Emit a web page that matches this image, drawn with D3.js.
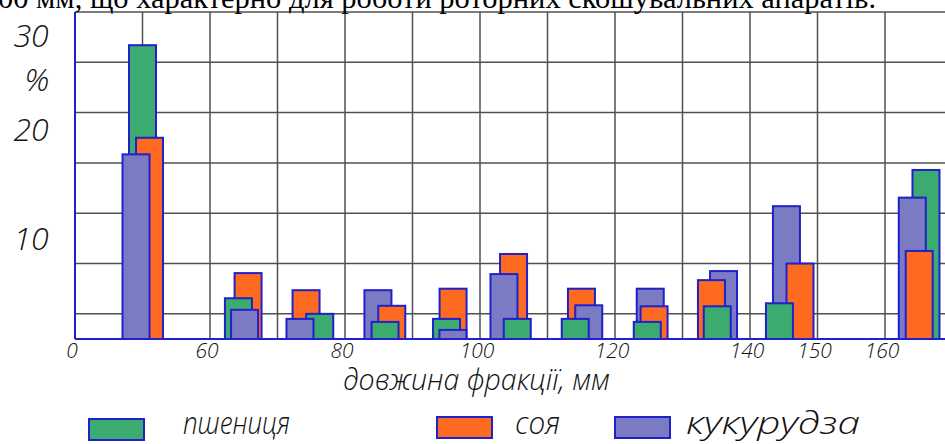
<!DOCTYPE html>
<html><head><meta charset="utf-8">
<script src="https://cdn.jsdelivr.net/npm/d3@7"></script>
<style>
html,body{margin:0;padding:0;background:#fff;overflow:hidden}
.lbl{font-family:"Open Sans","Liberation Sans",sans-serif;font-style:italic;font-weight:300;fill:#111}
</style></head><body><svg id="c" width="945" height="444"></svg>
<script>
// ---- data ----
const binEdges = [0,60,70,80,90,100,110,120,130,140,150,160,170];
const categories = ["0–60","60–70","70–80","80–90","90–100","100–110","110–120","120–130","130–140","140–150","150–160","160–170"];
const wheat = [29.2, 4.05, 2.5, 1.7, 2.0, 2.0, 2.0, 1.7, 3.25, 3.55, 0, 16.8];
const soy   = [20.0, 6.55, 4.85, 3.3, 5.0, 8.45, 5.0, 3.25, 5.85, 7.5, 0, 8.75];
const corn  = [18.35, 2.9, 2.0, 4.85, 0.9, 6.45, 3.35, 5.0, 6.75, 13.2, 0, 14.05];
const seriesNames = ["пшениця","соя","кукурудза"];
const xTickValues = [0,60,80,100,120,140,150,160];
const yTickValues = [10,20,30];
const xTitle = "довжина фракції, мм";
const topText = "00 мм, що характерно для роботи роторних скошувальних апаратів.";

// ---- layout (hand-drawn bar shifts, in column widths) ----
const shiftWheat = [0, -0.079, 0.126, 0.093, 0.004, 0.052, -0.089, -0.022, 0.015, -0.064, 0, 0.107];
const shiftSoy   = [0.104, 0.064, -0.077, 0.193, 0.101, -0.003, 0.003, 0.079, -0.071, 0.241, 0, 0.007];
const shiftCorn  = [-0.096, 0.012, -0.167, -0.012, 0.099, -0.145, 0.111, 0.022, 0.108, 0.04, 0, -0.096];
const colors = ["#3bab6f", "#ff6a21", "#7b7bc3"];
const strokeCol = "#2020cc";

const svg = d3.select("#c");
svg.append("rect").attr("width",945).attr("height",444).attr("fill","#fff");

const plotLeft = 75, plotBottom = 339, plotTop = 12;
const x = d3.scaleLinear().domain([0,60,170]).range([plotLeft, 210, 952.5]);
const y = d3.scaleLinear().domain([0,32.5]).range([plotBottom, plotTop]);
const colW = x(70) - x(60);
const barW = colW * 0.4;

// grid
const hGrid = d3.range(2.5, 33, 5);
svg.append("g").selectAll("line").data(hGrid).join("line")
  .attr("x1", plotLeft).attr("x2", 945).attr("y1", d=>y(d)).attr("y2", d=>y(d))
  .attr("stroke","#505050").attr("stroke-width",1.5);
const vGrid = [30].concat(binEdges.slice(1));
svg.append("g").selectAll("line").data(vGrid).join("line")
  .attr("x1", d=>x(d)).attr("x2", d=>x(d)).attr("y1", plotTop).attr("y2", plotBottom)
  .attr("stroke","#505050").attr("stroke-width",1.5);

// bars
const series = [wheat, soy, corn];
const shifts = [shiftWheat, shiftSoy, shiftCorn];
const bars = [];
categories.forEach((c,i)=>{
  const center = (x(binEdges[i]) + x(binEdges[i+1]))/2;
  const grp = series.map((s,k)=>({k, v:s[i], cx: center + shifts[k][i]*colW}))
    .filter(d=>d.v>0).sort((a,b)=>b.v-a.v);
  bars.push(...grp);
});
svg.append("g").selectAll("rect").data(bars).join("rect")
  .attr("x", d=>d.cx - barW/2).attr("width", barW)
  .attr("y", d=>y(d.v)).attr("height", d=>plotBottom - y(d.v))
  .attr("fill", d=>colors[d.k]).attr("stroke", strokeCol).attr("stroke-width",2);

// axes
svg.append("line").attr("x1",plotLeft).attr("x2",plotLeft).attr("y1",plotTop).attr("y2",plotBottom)
  .attr("stroke",strokeCol).attr("stroke-width",2);
svg.append("line").attr("x1",plotLeft).attr("x2",945).attr("y1",plotBottom).attr("y2",plotBottom)
  .attr("stroke",strokeCol).attr("stroke-width",2);

// y labels
const yNudge = {10:0, 20:-8, 30:-1};
svg.append("g").selectAll("text").data(yTickValues).join("text").attr("class","lbl")
  .attr("x", 31).attr("y", d=>y(d)+yNudge[d]).attr("dy","0.35em")
  .attr("text-anchor","middle").attr("font-size",32).text(d=>d);
svg.append("text").attr("class","lbl").attr("x",37).attr("y",y(26)+2).attr("dy","0.35em")
  .attr("text-anchor","middle").attr("font-size",32).text("%");

// x tick labels
svg.append("g").selectAll("text").data(xTickValues).join("text").attr("class","lbl")
  .attr("x", d=>x(d)-3).attr("y", 358)
  .attr("text-anchor","middle").attr("font-size",21).text(d=>d);

// x title
svg.append("text").attr("class","lbl")
  .attr("transform","translate(343,390) scale(1,1.1)")
  .attr("textLength",267).attr("lengthAdjust","spacingAndGlyphs")
  .attr("font-size",27).text(xTitle);

// legend
const legRects = [[89,419],[437,417],[615,417]];
const legText = [[183,107],[515,45],[686,174]];
seriesNames.forEach((n,k)=>{
  svg.append("rect").attr("x",legRects[k][0]).attr("y",legRects[k][1]).attr("width",55).attr("height",21)
    .attr("fill",colors[k]).attr("stroke",strokeCol).attr("stroke-width",2);
  svg.append("text").attr("class","lbl")
    .attr("transform",`translate(${legText[k][0]},434) scale(1,1.1)`)
    .attr("textLength",legText[k][1]).attr("lengthAdjust","spacingAndGlyphs")
    .attr("font-size",28).text(n);
});

// top clipped text line
svg.append("text").attr("x",-2).attr("y",7.5)
  .attr("textLength",878).attr("lengthAdjust","spacingAndGlyphs")
  .attr("font-family","'Liberation Serif','Times New Roman',serif").attr("font-size",30).attr("fill","#000")
  .text(topText);
</script></body></html>
